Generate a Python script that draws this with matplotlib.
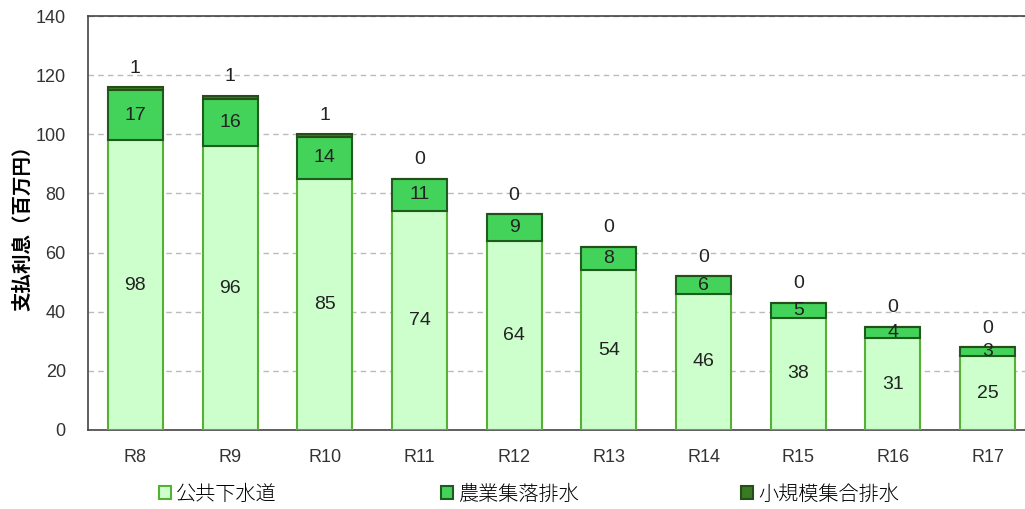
import matplotlib

matplotlib.use("Agg", force=True)
import matplotlib.pyplot as plt
from matplotlib.patches import Patch
import numpy as np

plt.rcParams["font.family"] = ["Liberation Sans", "Noto Sans CJK JP", "DejaVu Sans"]

years = ["R8", "R9", "R10", "R11", "R12", "R13", "R14", "R15", "R16", "R17"]
public_sewer = [98, 96, 85, 74, 64, 54, 46, 38, 31, 25]
farm_village = [17, 16, 14, 11, 9, 8, 6, 5, 4, 3]
small_scale = [1, 1, 1, 0, 0, 0, 0, 0, 0, 0]
series_names = ["公共下水道", "農業集落排水", "小規模集合排水"]

face = ["#CCFFCC", "#44D35A", "#3A7A22"]
edge = ["#55B034", "#1F5A1F", "#244F18"]
text_color = "#222222"

fig = plt.figure(figsize=(10.25, 5.09), dpi=100)
ax = fig.add_axes([88 / 1025, 79 / 509, 947 / 1025, 414 / 509])

x = np.arange(len(years))
w = 0.58
b1 = np.array(public_sewer)
b2 = b1 + np.array(farm_village)
total = b2 + np.array(small_scale)

ax.bar(x, public_sewer, w, color=face[0], edgecolor=edge[0], linewidth=1.5, zorder=3)
ax.bar(x, farm_village, w, bottom=b1, color=face[1], edgecolor=edge[1], linewidth=1.5, zorder=3)
ax.bar(x, small_scale, w, bottom=b2, color=face[2], edgecolor=edge[2], linewidth=1.5, zorder=3)

for i in range(len(years)):
    ax.text(x[i], public_sewer[i] / 2, str(public_sewer[i]), ha="center", va="center",
            fontsize=14, color=text_color, zorder=5)
    ax.text(x[i], b1[i] + farm_village[i] / 2, str(farm_village[i]), ha="center", va="center",
            fontsize=14, color=text_color, zorder=5)
    ax.text(x[i], total[i] + 3.5, str(small_scale[i]), ha="center", va="bottom",
            fontsize=14, color=text_color, zorder=5)

ax.set_xlim(-0.5, len(years) - 0.5)
ax.set_ylim(0, 140)
ax.set_yticks(range(0, 141, 20))
ax.set_xticks(x)
ax.set_xticklabels(years)
ax.tick_params(axis="both", length=0, labelsize=13, colors="#333333")
ax.tick_params(axis="y", pad=16)
ax.tick_params(axis="x", pad=14)
ax.yaxis.grid(True, linestyle=(0, (4, 3)), color="#BBBBBB", linewidth=1, zorder=0)
ax.set_axisbelow(True)

ax.spines["right"].set_visible(False)
for s in ["left", "bottom", "top"]:
    ax.spines[s].set_color("#444444")
    ax.spines[s].set_linewidth(1.2)

ax.set_ylabel("支払利息（百万円）", fontsize=14, fontweight="bold",
              family=["Noto Sans CJK JP", "DejaVu Sans"], labelpad=2)

legend_x = [159 / 1025, 441 / 1025, 741 / 1025]
for name, fc, ec, lx in zip(series_names, face, edge, legend_x):
    fig.legend(handles=[Patch(facecolor=fc, edgecolor=ec, linewidth=1.5)], labels=[name],
               loc="center left", bbox_to_anchor=(lx, 15 / 509), frameon=False,
               handlelength=0.6, handleheight=0.6, handletextpad=0.25, borderpad=0,
               borderaxespad=0,
               prop={"family": ["Noto Sans CJK JP", "DejaVu Sans"], "size": 14.5,
                     "weight": "light"})

fig.savefig("out.png", dpi=100)
